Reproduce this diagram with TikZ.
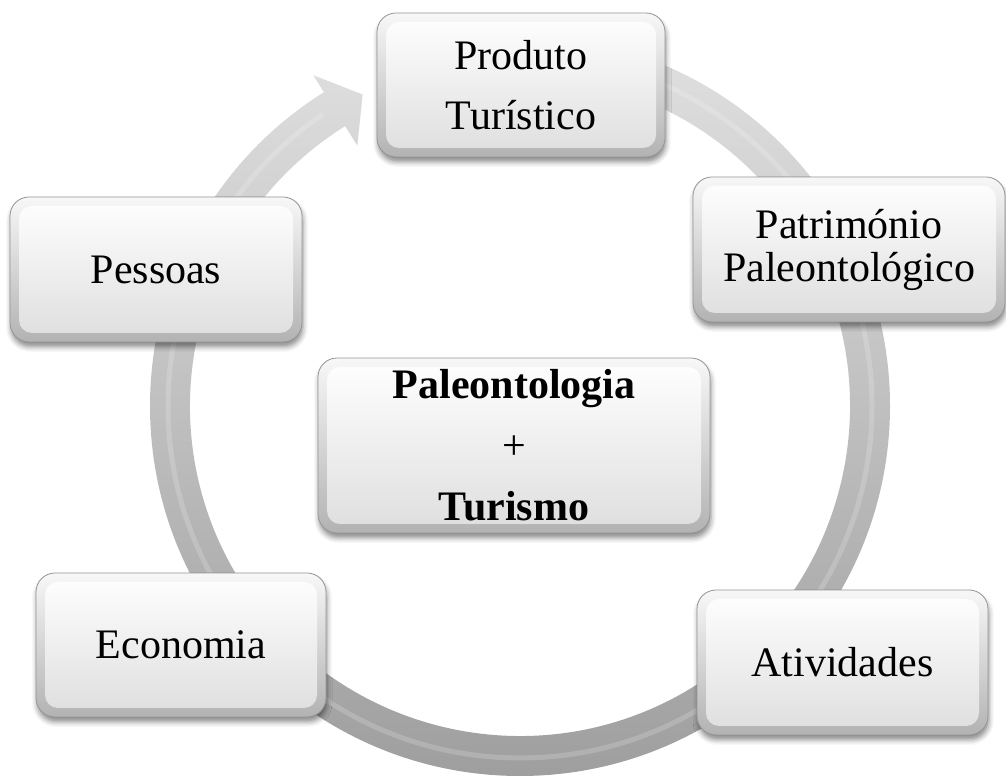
\documentclass[tikz,border=0pt]{standalone}
\usepackage{fontspec}
\setmainfont{Liberation Serif}
\usetikzlibrary{shadows.blur}
\tikzset{
  bevelbox/.style={
    rounded corners=19pt, draw=black!42, line width=0.8pt,
    top color=black!3, bottom color=black!30,
    blur shadow={shadow xshift=1pt, shadow yshift=-5pt, shadow blur radius=5pt, shadow opacity=45},
    align=center, inner sep=0pt,
    font=\fontsize{42}{42}\selectfont,
    path picture={
      \shade[rounded corners=13pt, top color=white, bottom color=black!13]
        ([shift={(9pt,-9pt)}]path picture bounding box.north west) rectangle
        ([shift={(-9pt,9pt)}]path picture bounding box.south east);
    }
  },
  ringshade/.style={top color=black!12, bottom color=black!38}
}
\begin{document}
\begin{tikzpicture}[x=1pt,y=1pt]
\useasboundingbox (0,0) rectangle (1006,778);
% circular arrow
\begin{scope}[shift={(520,372)}]
  \shade[ringshade]
    (90:370) arc[start angle=90, end angle=-238, radius=370]
    -- (122:390) -- (116.8:349) -- (122:307) -- (122:330)
    arc[start angle=-238, end angle=90, radius=330] -- cycle;
  \draw[white, opacity=0.18, line width=5pt]
    (90:352) arc[start angle=90, end angle=-236, radius=352];
\end{scope}
% boxes
\node[bevelbox, minimum width=288, minimum height=144,
      font=\fontsize{42}{60}\selectfont] (prod) at (521,693) {Produto\\Turístico};
\node[bevelbox, minimum width=312, minimum height=145,
      font=\fontsize{42}{43}\selectfont] (pat) at (849,528.5) {Património\\Paleontológico};
\node[bevelbox, minimum width=291, minimum height=145] (ati) at (842.5,115.5) {Atividades};
\node[bevelbox, minimum width=290, minimum height=144] (eco) at (181,133) {Economia};
\node[bevelbox, minimum width=292, minimum height=145] (pes) at (156,508.5) {Pessoas};
\node[bevelbox, minimum width=392, minimum height=175,
      font=\fontsize{42}{61}\selectfont] (cen) at (514,332.5)
      {\textbf{Paleontologia}\\+\\\textbf{Turismo}};
\end{tikzpicture}
\end{document}
